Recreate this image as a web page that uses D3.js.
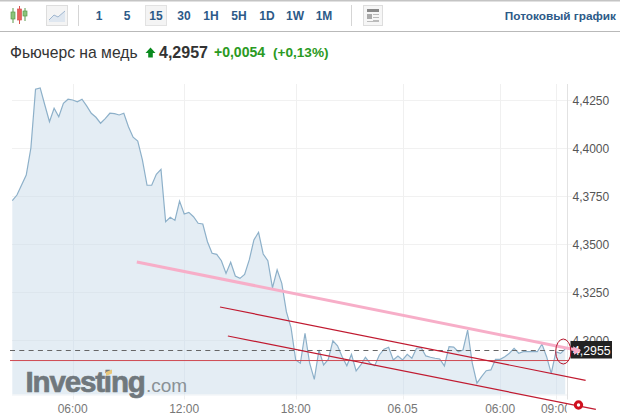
<!DOCTYPE html>
<html><head><meta charset="utf-8">
<script src="https://cdn.jsdelivr.net/npm/d3@7"></script>
<style>html,body{margin:0;padding:0;background:#fff}svg{display:block}text{font-family:"Liberation Sans",Arial,sans-serif}</style>
</head><body><div id="c"></div>
<script>
const prices=[4.3726,4.3755,4.3807,4.3859,4.4000,4.4306,4.4313,4.4224,4.4137,4.4207,4.4163,4.4233,4.4254,4.4250,4.4241,4.4254,4.4219,4.4181,4.4160,4.4129,4.4153,4.4181,4.4179,4.4172,4.4181,4.4111,4.4056,4.4036,4.3938,4.3806,4.3806,4.3863,4.3889,4.3616,4.3639,4.3623,4.3724,4.3656,4.3665,4.3642,4.3608,4.3604,4.3512,4.3452,4.3446,4.3413,4.3347,4.3405,4.3333,4.3321,4.3342,4.3417,4.3521,4.3561,4.3448,4.3413,4.3272,4.3365,4.3295,4.3146,4.3063,4.2896,4.2879,4.3035,4.2879,4.2795,4.2948,4.2870,4.2899,4.2996,4.2970,4.2913,4.2866,4.2925,4.2839,4.2870,4.2910,4.2879,4.2866,4.2922,4.2952,4.2962,4.2896,4.2917,4.2896,4.2925,4.2905,4.2957,4.2960,4.2917,4.2910,4.2905,4.2901,4.2865,4.2965,4.2963,4.2939,4.2948,4.3052,4.2879,4.2775,4.2809,4.2840,4.2844,4.2899,4.2899,4.2913,4.2931,4.2957,4.2931,4.2939,4.2939,4.2939,4.2939,4.2979,4.2913,4.2826,4.2938,4.2930,4.2953];
const yTicks=[4.4250,4.4000,4.3750,4.3500,4.3250,4.3000];
const xTickIndex=[13,37,61,84,105,117];
const xTickLabels=["06:00","12:00","18:00","06.05","06:00","09:00"];
const intervals=["1","5","15","30","1H","5H","1D","1W","1M"];
const intervalX=[99,127,156,184,211,239,267,295,324];
const lastPrice=4.2955;
// annotation lines given as [bar index, price] pairs
const pinkLine=[[26.8,4.3406],[122.2,4.2944]];
const redUpper=[[44.7,4.3172],[123.4,4.2790]];
const redLower=[[46.4,4.3021],[125.6,4.2639]];
const redLevel=4.2893;

const W=620,H=418;
const fmt=v=>v.toFixed(4).replace(".",",");
const x=d3.scaleLinear().domain([0,119]).range([12.3,565.2]);
const y=d3.scaleLinear().domain([4.425,4.3]).range([100,340]);
const svg=d3.select("#c").append("svg").attr("width",W).attr("height",H);
const plotBottom=394.5,plotRight=567;
svg.append("defs").append("clipPath").attr("id","clipx").append("rect").attr("x",0).attr("y",396).attr("width",plotRight).attr("height",22);

// header
svg.append("rect").attr("x",0).attr("y",0).attr("width",W).attr("height",1.5).attr("fill","#c4c4c4");
svg.append("rect").attr("x",0).attr("y",31).attr("width",W).attr("height",1).attr("fill","#b9b9b9");
const hd=svg.append("g");
[[13,"#5a9a4a",12,19,8,23],[19.5,"#d9534f",9,20,6,24],[25,"#5a9a4a",11,16,8,21]].forEach(c=>{
 hd.append("line").attr("x1",c[0]).attr("x2",c[0]).attr("y1",c[4]).attr("y2",c[5]).attr("stroke",c[1]);
 hd.append("rect").attr("x",c[0]-2).attr("y",c[2]).attr("width",4).attr("height",c[3]-c[2]).attr("fill",c[1]=="#d9534f"?"#e8605c":"#8cc47a").attr("stroke",c[1]).attr("stroke-width",.7);
});
hd.append("rect").attr("x",46.5).attr("y",5.5).attr("width",21).attr("height",20).attr("fill","#f4f4f4").attr("stroke","#ddd");
hd.append("path").attr("d","M49,20L54,15L58,17L65,11L65,22L49,22Z").attr("fill","#dfe7f0").attr("stroke","none");
hd.append("path").attr("d","M49,20L54,15L58,17L65,11").attr("fill","none").attr("stroke","#9fb6cf");
hd.append("rect").attr("x",78).attr("y",5).attr("width",1).attr("height",21).attr("fill","#d5d5d5");
hd.append("rect").attr("x",145.5).attr("y",5.5).attr("width",21).attr("height",20).attr("fill","#f4f4f4").attr("stroke","#e2e2e2");
hd.selectAll("text.iv").data(intervals).join("text").attr("class","iv").attr("x",(d,i)=>intervalX[i]).attr("y",20).attr("text-anchor","middle").attr("font-size",12).attr("font-weight","bold").attr("fill","#2d5a88").text(d=>d);
hd.append("rect").attr("x",351).attr("y",5).attr("width",1).attr("height",21).attr("fill","#d5d5d5");
hd.append("rect").attr("x",363.5).attr("y",5.5).attr("width",19).attr("height",20).attr("fill","#f6f6f6").attr("stroke","#ddd");
hd.append("rect").attr("x",367).attr("y",9).attr("width",12).attr("height",3).attr("fill","#888");
hd.append("rect").attr("x",367).attr("y",14).attr("width",5).attr("height",5).attr("fill","#aaa");
[14,17,20].forEach(v=>hd.append("rect").attr("x",373).attr("y",v).attr("width",6).attr("height",1).attr("fill","#bbb"));
hd.append("rect").attr("x",367).attr("y",21).attr("width",12).attr("height",1).attr("fill","#bbb");
hd.append("text").attr("x",616).attr("y",20).attr("text-anchor","end").attr("font-size",11.8).attr("font-weight","bold").attr("fill","#2d5a88").text("Потоковый график");
// title
hd.append("text").attr("x",10).attr("y",58).attr("font-size",15.7).attr("fill","#333").text("Фьючерс на медь");
hd.append("path").attr("d","M150.5,47.5L155.5,53L152.8,53L152.8,57.5L148.2,57.5L148.2,53L145.5,53Z").attr("fill","#0a8a1e");
hd.append("text").attr("x",159).attr("y",58).attr("font-size",16).attr("font-weight","bold").attr("fill","#333").text("4,2957");
hd.append("text").attr("x",214).attr("y",57).attr("font-size",14).attr("font-weight","bold").attr("fill","#2a9a22").text("+0,0054");
hd.append("text").attr("x",273).attr("y",57).attr("font-size",13.6).attr("font-weight","bold").attr("fill","#2a9a22").text("(+0,13%)");

// grid
const g=svg.append("g");
g.selectAll("line.h").data(yTicks).join("line").attr("class","h").attr("x1",12).attr("x2",plotRight+5).attr("y1",d=>y(d)+.5).attr("y2",d=>y(d)+.5).attr("stroke","#f1f1f1");
g.selectAll("line.v").data(xTickIndex).join("line").attr("class","v").attr("x1",d=>Math.round(x(d))+.5).attr("x2",d=>Math.round(x(d))+.5).attr("y1",84).attr("y2",plotBottom+5).attr("stroke","#f0f0f0");

// series
const idx=d3.range(prices.length);
g.append("path").attr("d",d3.area().x(i=>x(i)).y0(plotBottom).y1(i=>y(prices[i]))(idx)).attr("fill","#c9dcea").attr("fill-opacity",.5);
g.selectAll("line.v2").data(xTickIndex).join("line").attr("class","v2").attr("x1",d=>Math.round(x(d))+.5).attr("x2",d=>Math.round(x(d))+.5).attr("y1",d=>y(prices[d])).attr("y2",plotBottom).attr("stroke","#dbe5ee");
g.append("path").attr("d",d3.line().x(i=>x(i)).y(i=>y(prices[i]))(idx)).attr("fill","none").attr("stroke","#8db0c9").attr("stroke-width",1.2);
g.append("line").attr("x1",plotRight+.5).attr("x2",plotRight+.5).attr("y1",84).attr("y2",plotBottom+5).attr("stroke","#e2e2e2");
g.append("line").attr("x1",12).attr("x2",plotRight).attr("y1",plotBottom+.5).attr("y2",plotBottom+.5).attr("stroke","#eef2f5");

// logo
const logo=svg.append("g");
logo.append("text").attr("x",25.5).attr("y",392).attr("font-size",29.5).attr("font-weight","bold").attr("letter-spacing",-1.15).attr("fill","#70787d").attr("stroke","#70787d").attr("stroke-width",.7).text("Investing");
logo.append("text").attr("x",146).attr("y",392).attr("font-size",19).attr("fill","#8a9196").text(".com");
logo.append("path").attr("d","M106,372L112,369.5L112,373.5L106,376Z").attr("fill","#e8c77a");

// ticks
svg.selectAll("text.yt").data(yTicks).join("text").attr("class","yt").attr("x",572.5).attr("y",d=>y(d)+5).attr("font-size",12).attr("fill","#555").text(fmt);
svg.append("g").attr("clip-path","url(#clipx)").selectAll("text").data(xTickIndex).join("text").attr("x",d=>x(d)).attr("y",413).attr("text-anchor","middle").attr("font-size",12).attr("fill","#777").text((d,i)=>xTickLabels[i]);

// annotations
const ll=d=>d3.line().x(p=>x(p[0])).y(p=>y(p[1]))(d);
svg.append("line").attr("x1",10).attr("x2",plotRight+2).attr("y1",y(redLevel)).attr("y2",y(redLevel)).attr("stroke","#cf4a52").attr("stroke-width",1);
svg.append("line").attr("x1",10).attr("x2",plotRight).attr("y1",350.5).attr("y2",350.5).attr("stroke","#666").attr("stroke-dasharray","5,4.3");
svg.append("path").attr("d",ll(redUpper)).attr("stroke","#c01a30").attr("stroke-width",1.2).attr("fill","none");
svg.append("path").attr("d",ll(redLower)).attr("stroke","#c01a30").attr("stroke-width",1.2).attr("fill","none");
svg.append("rect").attr("x",570.5).attr("y",341).attr("width",41.5).attr("height",17.5).attr("fill","#222");
svg.append("text").attr("x",573).attr("y",354.5).attr("font-size",12.3).attr("fill","#fff").text(fmt(lastPrice));
svg.append("path").attr("d",ll(pinkLine)).attr("stroke","#f7aec8").attr("stroke-width",3).attr("fill","none");
const tip=pinkLine[1];
svg.append("path").attr("d",`M${x(tip[0])+1},${y(tip[1])}l-8,-4.5l1,8.5Z`).attr("fill","#f7aec8");
svg.append("ellipse").attr("cx",563.3).attr("cy",351.5).attr("rx",7.6).attr("ry",12.5).attr("fill","none").attr("stroke","#b5142a").attr("stroke-width",1);
svg.append("circle").attr("cx",578.5).attr("cy",405).attr("r",3.2).attr("fill","#fff").attr("stroke","#d0101f").attr("stroke-width",3);
</script></body></html>
